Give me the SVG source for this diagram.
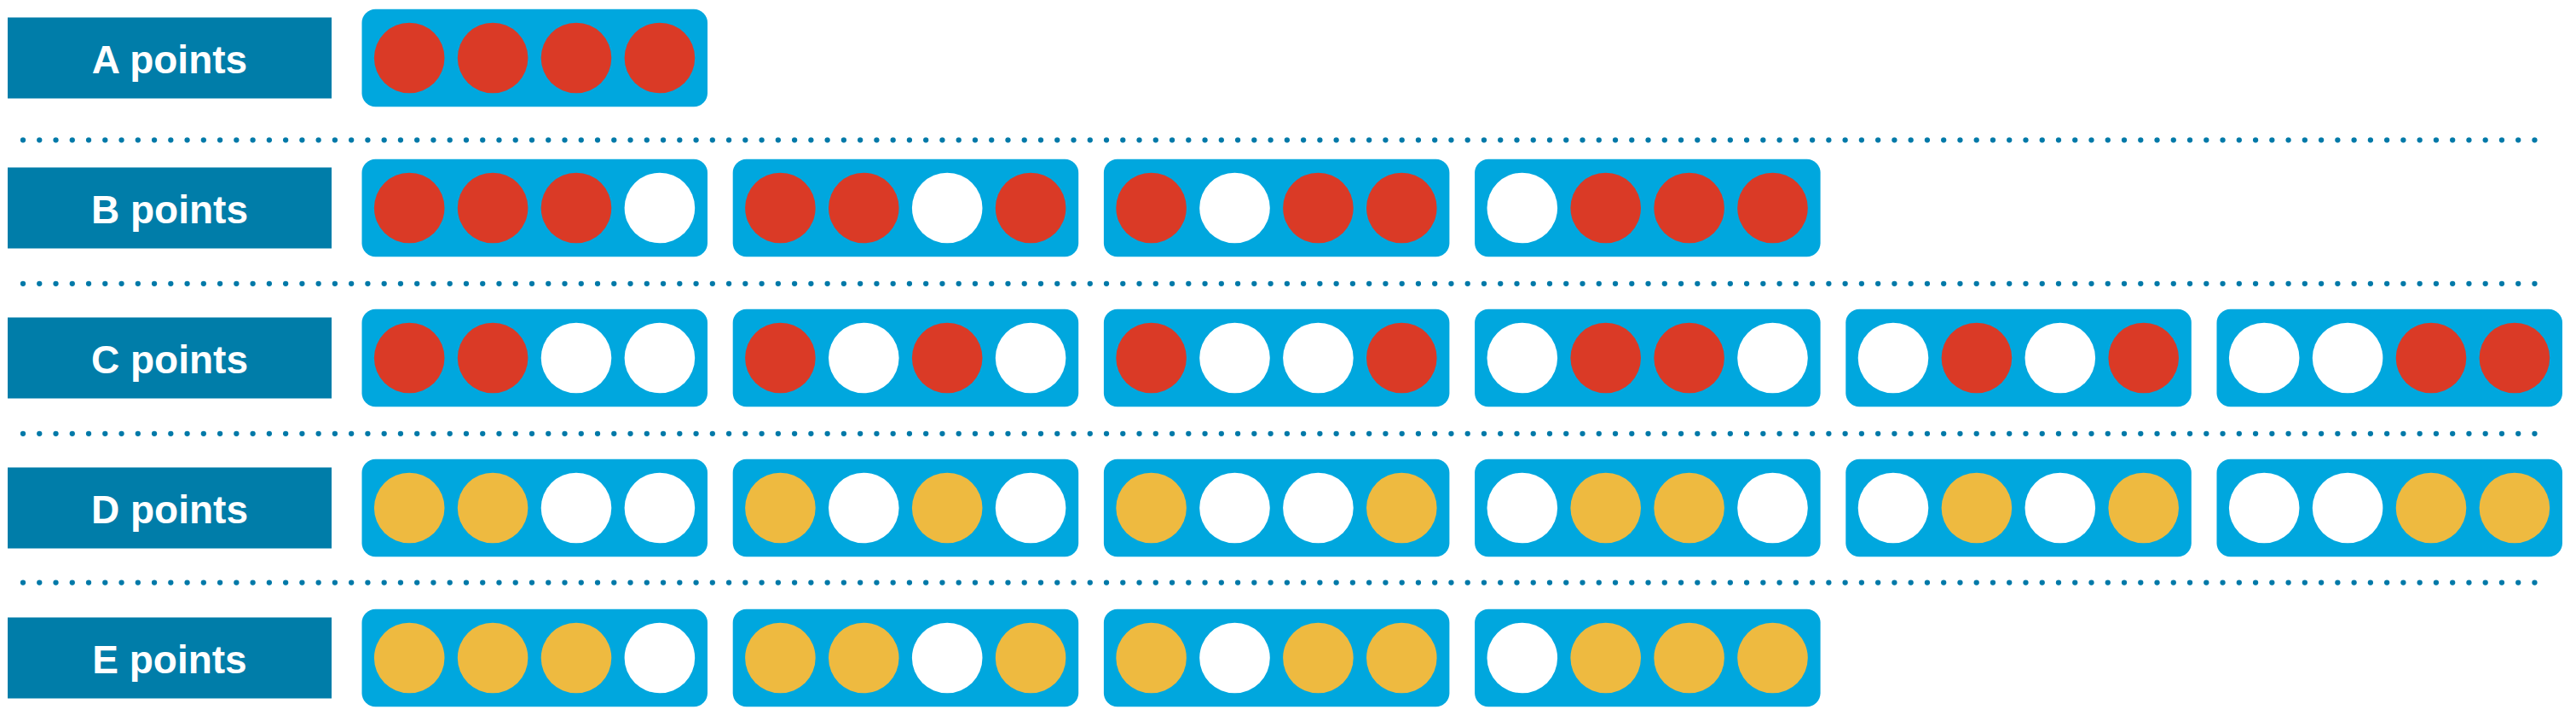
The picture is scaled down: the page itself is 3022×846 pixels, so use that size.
<svg xmlns="http://www.w3.org/2000/svg" xmlns:xlink="http://www.w3.org/1999/xlink" width="3022" height="846" viewBox="0 0 3022 846">
<style>
.lbl{fill:#007DA9}
.lt{fill:#ffffff;font-family:"Liberation Sans",Arial,sans-serif;font-weight:bold;font-size:46px;text-anchor:middle}
.box{fill:#00A7DE}
.r{fill:#DA3A26}
.y{fill:#EEBA40}
.w{fill:#ffffff}
.dots{stroke:#0079A8;stroke-width:6.3;stroke-linecap:round;stroke-dasharray:0 19.258;fill:none}
</style>
<defs>
<rect id="bx" class="box" x="0" y="0" width="405.5" height="114.6" rx="16" ry="16"/>
</defs>
<rect width="3022" height="846" fill="#ffffff"/>
<g id="separators">
<line class="dots" x1="27" y1="164.3" x2="2992.7" y2="164.3"/>
<line class="dots" x1="27" y1="332.8" x2="2992.7" y2="332.8"/>
<line class="dots" x1="27" y1="508.8" x2="2992.7" y2="508.8"/>
<line class="dots" x1="27" y1="683.6" x2="2992.7" y2="683.6"/>
</g>
<g id="label-A"><rect class="lbl" x="9" y="20.5" width="380" height="95"/><text class="lt" x="199" y="85.5">A points</text></g>
<g id="label-B"><rect class="lbl" x="9" y="196.5" width="380" height="95"/><text class="lt" x="199" y="261.5">B points</text></g>
<g id="label-C"><rect class="lbl" x="9" y="372.5" width="380" height="95"/><text class="lt" x="199" y="437.5">C points</text></g>
<g id="label-D"><rect class="lbl" x="9" y="548.5" width="380" height="95"/><text class="lt" x="199" y="613.5">D points</text></g>
<g id="label-E"><rect class="lbl" x="9" y="724.5" width="380" height="95"/><text class="lt" x="199" y="789.5">E points</text></g>

<g id="A1" transform="translate(424.5,10.7)"><use xlink:href="#bx"/><circle class="r" cx="55.7" cy="57.3" r="41.3"/><circle class="r" cx="153.6" cy="57.3" r="41.3"/><circle class="r" cx="251.5" cy="57.3" r="41.3"/><circle class="r" cx="349.4" cy="57.3" r="41.3"/></g>

<g id="B1" transform="translate(424.5,186.7)"><use xlink:href="#bx"/><circle class="r" cx="55.7" cy="57.3" r="41.3"/><circle class="r" cx="153.6" cy="57.3" r="41.3"/><circle class="r" cx="251.5" cy="57.3" r="41.3"/><circle class="w" cx="349.4" cy="57.3" r="41.3"/></g>
<g id="B2" transform="translate(859.7,186.7)"><use xlink:href="#bx"/><circle class="r" cx="55.7" cy="57.3" r="41.3"/><circle class="r" cx="153.6" cy="57.3" r="41.3"/><circle class="w" cx="251.5" cy="57.3" r="41.3"/><circle class="r" cx="349.4" cy="57.3" r="41.3"/></g>
<g id="B3" transform="translate(1294.9,186.7)"><use xlink:href="#bx"/><circle class="r" cx="55.7" cy="57.3" r="41.3"/><circle class="w" cx="153.6" cy="57.3" r="41.3"/><circle class="r" cx="251.5" cy="57.3" r="41.3"/><circle class="r" cx="349.4" cy="57.3" r="41.3"/></g>
<g id="B4" transform="translate(1730.1,186.7)"><use xlink:href="#bx"/><circle class="w" cx="55.7" cy="57.3" r="41.3"/><circle class="r" cx="153.6" cy="57.3" r="41.3"/><circle class="r" cx="251.5" cy="57.3" r="41.3"/><circle class="r" cx="349.4" cy="57.3" r="41.3"/></g>

<g id="C1" transform="translate(424.5,362.7)"><use xlink:href="#bx"/><circle class="r" cx="55.7" cy="57.3" r="41.3"/><circle class="r" cx="153.6" cy="57.3" r="41.3"/><circle class="w" cx="251.5" cy="57.3" r="41.3"/><circle class="w" cx="349.4" cy="57.3" r="41.3"/></g>
<g id="C2" transform="translate(859.7,362.7)"><use xlink:href="#bx"/><circle class="r" cx="55.7" cy="57.3" r="41.3"/><circle class="w" cx="153.6" cy="57.3" r="41.3"/><circle class="r" cx="251.5" cy="57.3" r="41.3"/><circle class="w" cx="349.4" cy="57.3" r="41.3"/></g>
<g id="C3" transform="translate(1294.9,362.7)"><use xlink:href="#bx"/><circle class="r" cx="55.7" cy="57.3" r="41.3"/><circle class="w" cx="153.6" cy="57.3" r="41.3"/><circle class="w" cx="251.5" cy="57.3" r="41.3"/><circle class="r" cx="349.4" cy="57.3" r="41.3"/></g>
<g id="C4" transform="translate(1730.1,362.7)"><use xlink:href="#bx"/><circle class="w" cx="55.7" cy="57.3" r="41.3"/><circle class="r" cx="153.6" cy="57.3" r="41.3"/><circle class="r" cx="251.5" cy="57.3" r="41.3"/><circle class="w" cx="349.4" cy="57.3" r="41.3"/></g>
<g id="C5" transform="translate(2165.3,362.7)"><use xlink:href="#bx"/><circle class="w" cx="55.7" cy="57.3" r="41.3"/><circle class="r" cx="153.6" cy="57.3" r="41.3"/><circle class="w" cx="251.5" cy="57.3" r="41.3"/><circle class="r" cx="349.4" cy="57.3" r="41.3"/></g>
<g id="C6" transform="translate(2600.5,362.7)"><use xlink:href="#bx"/><circle class="w" cx="55.7" cy="57.3" r="41.3"/><circle class="w" cx="153.6" cy="57.3" r="41.3"/><circle class="r" cx="251.5" cy="57.3" r="41.3"/><circle class="r" cx="349.4" cy="57.3" r="41.3"/></g>

<g id="D1" transform="translate(424.5,538.7)"><use xlink:href="#bx"/><circle class="y" cx="55.7" cy="57.3" r="41.3"/><circle class="y" cx="153.6" cy="57.3" r="41.3"/><circle class="w" cx="251.5" cy="57.3" r="41.3"/><circle class="w" cx="349.4" cy="57.3" r="41.3"/></g>
<g id="D2" transform="translate(859.7,538.7)"><use xlink:href="#bx"/><circle class="y" cx="55.7" cy="57.3" r="41.3"/><circle class="w" cx="153.6" cy="57.3" r="41.3"/><circle class="y" cx="251.5" cy="57.3" r="41.3"/><circle class="w" cx="349.4" cy="57.3" r="41.3"/></g>
<g id="D3" transform="translate(1294.9,538.7)"><use xlink:href="#bx"/><circle class="y" cx="55.7" cy="57.3" r="41.3"/><circle class="w" cx="153.6" cy="57.3" r="41.3"/><circle class="w" cx="251.5" cy="57.3" r="41.3"/><circle class="y" cx="349.4" cy="57.3" r="41.3"/></g>
<g id="D4" transform="translate(1730.1,538.7)"><use xlink:href="#bx"/><circle class="w" cx="55.7" cy="57.3" r="41.3"/><circle class="y" cx="153.6" cy="57.3" r="41.3"/><circle class="y" cx="251.5" cy="57.3" r="41.3"/><circle class="w" cx="349.4" cy="57.3" r="41.3"/></g>
<g id="D5" transform="translate(2165.3,538.7)"><use xlink:href="#bx"/><circle class="w" cx="55.7" cy="57.3" r="41.3"/><circle class="y" cx="153.6" cy="57.3" r="41.3"/><circle class="w" cx="251.5" cy="57.3" r="41.3"/><circle class="y" cx="349.4" cy="57.3" r="41.3"/></g>
<g id="D6" transform="translate(2600.5,538.7)"><use xlink:href="#bx"/><circle class="w" cx="55.7" cy="57.3" r="41.3"/><circle class="w" cx="153.6" cy="57.3" r="41.3"/><circle class="y" cx="251.5" cy="57.3" r="41.3"/><circle class="y" cx="349.4" cy="57.3" r="41.3"/></g>

<g id="E1" transform="translate(424.5,714.7)"><use xlink:href="#bx"/><circle class="y" cx="55.7" cy="57.3" r="41.3"/><circle class="y" cx="153.6" cy="57.3" r="41.3"/><circle class="y" cx="251.5" cy="57.3" r="41.3"/><circle class="w" cx="349.4" cy="57.3" r="41.3"/></g>
<g id="E2" transform="translate(859.7,714.7)"><use xlink:href="#bx"/><circle class="y" cx="55.7" cy="57.3" r="41.3"/><circle class="y" cx="153.6" cy="57.3" r="41.3"/><circle class="w" cx="251.5" cy="57.3" r="41.3"/><circle class="y" cx="349.4" cy="57.3" r="41.3"/></g>
<g id="E3" transform="translate(1294.9,714.7)"><use xlink:href="#bx"/><circle class="y" cx="55.7" cy="57.3" r="41.3"/><circle class="w" cx="153.6" cy="57.3" r="41.3"/><circle class="y" cx="251.5" cy="57.3" r="41.3"/><circle class="y" cx="349.4" cy="57.3" r="41.3"/></g>
<g id="E4" transform="translate(1730.1,714.7)"><use xlink:href="#bx"/><circle class="w" cx="55.7" cy="57.3" r="41.3"/><circle class="y" cx="153.6" cy="57.3" r="41.3"/><circle class="y" cx="251.5" cy="57.3" r="41.3"/><circle class="y" cx="349.4" cy="57.3" r="41.3"/></g>
</svg>
